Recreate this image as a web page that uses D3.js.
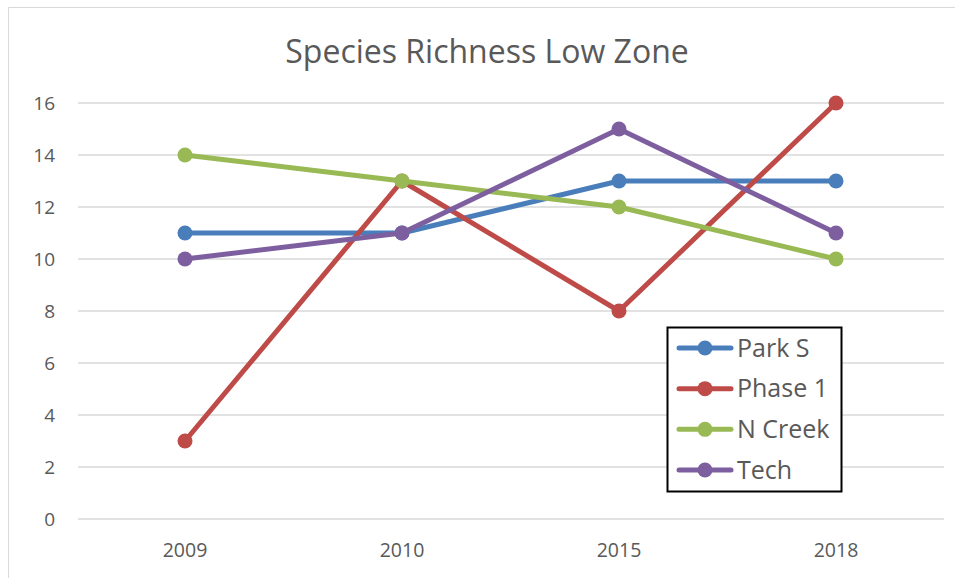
<!DOCTYPE html>
<html><head><meta charset="utf-8">
<script src="https://cdn.jsdelivr.net/npm/d3@7"></script>
<style>body{margin:0;background:#fff}svg{display:block}text{font-family:"Open Sans","Noto Sans",sans-serif}</style>
</head><body><svg id="c" width="955" height="578"></svg>
<script>
const title = "Species Richness Low Zone";
const categories = ["2009","2010","2015","2018"];
const yTicks = [0,2,4,6,8,10,12,14,16];
const seriesNames = ["Park S","Phase 1","N Creek","Tech"];
const seriesColors = ["#4a7ebb","#be4b48","#98b954","#7d5fa0"];
const parkS = [11,11,13,13];
const phase1 = [3,13,8,16];
const nCreek = [14,13,12,10];
const tech = [10,11,15,11];
const seriesValues = [parkS, phase1, nCreek, tech];

const svg = d3.select("#c");
svg.append("path").attr("d","M8.5,578 L8.5,7.5 L955,7.5").attr("fill","none").attr("stroke","#d9d9d9").attr("stroke-width",1);

const x = d3.scaleBand().domain(categories).range([76.5,944.5]);
const y = d3.scaleLinear().domain([0,16]).range([519,103]);

svg.append("g").selectAll("line").data(yTicks).join("line")
  .attr("x1",78).attr("x2",944).attr("y1",d=>y(d)).attr("y2",d=>y(d))
  .attr("stroke","#d9d9d9").attr("stroke-width",1.5);

svg.append("g").selectAll("text").data(yTicks).join("text")
  .attr("x",55).attr("y",d=>y(d)).attr("dy","0.35em").attr("text-anchor","end")
  .attr("font-size",19).attr("fill","#595959").text(d=>d);

svg.append("g").selectAll("text").data(categories).join("text")
  .attr("x",d=>x(d)+x.bandwidth()/2).attr("y",557).attr("text-anchor","middle")
  .attr("font-size",19.5).attr("fill","#595959").text(d=>d);

svg.append("text").attr("x",487).attr("y",63).attr("text-anchor","middle")
  .attr("font-size",32).attr("fill","#595959").text(title);

const line = d3.line().x((d,i)=>x(categories[i])+x.bandwidth()/2).y(d=>y(d));
seriesValues.forEach((vals,si)=>{
  const g = svg.append("g");
  g.append("path").attr("d",line(vals)).attr("fill","none")
    .attr("stroke",seriesColors[si]).attr("stroke-width",5).attr("stroke-linejoin","round").attr("stroke-linecap","round");
  g.selectAll("circle").data(vals).join("circle")
    .attr("cx",(d,i)=>x(categories[i])+x.bandwidth()/2).attr("cy",d=>y(d)).attr("r",7.5)
    .attr("fill",seriesColors[si]);
});

const lg = svg.append("g");
lg.append("rect").attr("x",667.5).attr("y",327.5).attr("width",174).attr("height",164)
  .attr("fill","#fff").attr("stroke","#000").attr("stroke-width",2);
const ly = d3.scalePoint().domain(seriesNames).range([348,470]);
seriesNames.forEach((n,i)=>{
  const yy = ly(n);
  lg.append("line").attr("x1",679).attr("x2",731).attr("y1",yy).attr("y2",yy)
    .attr("stroke",seriesColors[i]).attr("stroke-width",5).attr("stroke-linecap","round");
  lg.append("circle").attr("cx",705).attr("cy",yy).attr("r",7.5).attr("fill",seriesColors[i]);
  lg.append("text").attr("x",737).attr("y",yy).attr("dy","0.35em").attr("font-size",25)
    .attr("fill","#595959").text(n);
});
</script></body></html>
